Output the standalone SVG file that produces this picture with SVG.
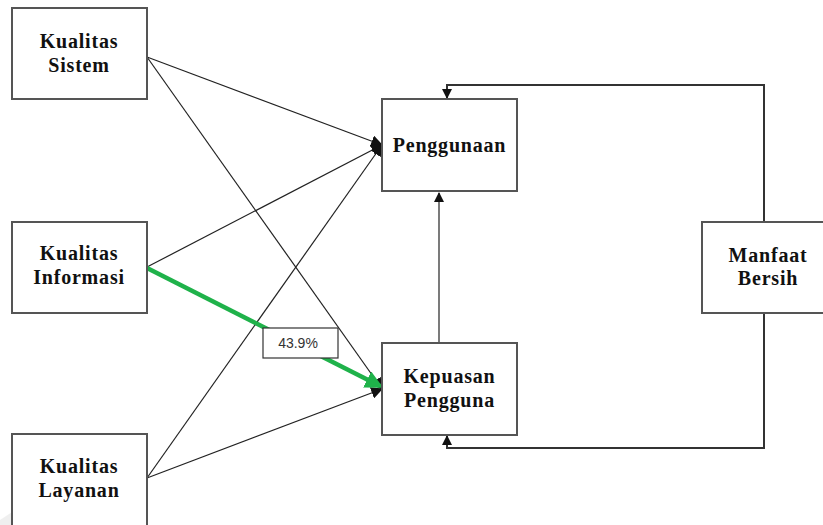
<svg xmlns="http://www.w3.org/2000/svg" width="823" height="525" viewBox="0 0 823 525">
  <style>
    .box { fill: #ffffff; stroke: #555555; stroke-width: 2; }
    .lbl { font-family: "Liberation Serif", "Times New Roman", serif; font-weight: bold; font-size: 20px; letter-spacing: 0.8px; fill: #111111; text-anchor: middle; }
    .edge { fill: none; stroke: #222222; stroke-width: 1.2; }
    .loop { fill: none; stroke: #333333; stroke-width: 2; }
    .green { fill: none; stroke: #1fb24a; stroke-width: 4.5; }
    .pct { font-family: "Liberation Sans", Arial, sans-serif; font-size: 14px; fill: #333333; text-anchor: middle; }
  </style>
  <defs>
    <marker id="arrow" viewBox="0 0 10 10" refX="9" refY="5" markerWidth="10" markerHeight="10" markerUnits="userSpaceOnUse" orient="auto">
      <path d="M0,0 L10,5 L0,10 z" fill="#111111"/>
    </marker>
    <marker id="arrowBig" viewBox="0 0 10 10" refX="9" refY="5" markerWidth="12" markerHeight="12" markerUnits="userSpaceOnUse" orient="auto">
      <path d="M0,0 L10,5 L0,10 z" fill="#111111"/>
    </marker>
    <marker id="arrowGreen" viewBox="0 0 10 10" refX="8" refY="5" markerWidth="4" markerHeight="4" orient="auto">
      <path d="M0,0 L10,5 L0,10 z" fill="#1fb24a"/>
    </marker>
  </defs>

  <rect width="823" height="525" fill="#ffffff"/>

  <!-- faint background mark -->
  <g opacity="0.15">
    <polygon points="73,472 0,520 0,525 40,525" fill="#9a9a9a"/>
    <polygon points="73,472 110,525 60,525" fill="#d23a3a"/>
  </g>

  <!-- connectors -->
  <g id="connectors">
    <line class="edge" x1="147" y1="57" x2="382" y2="145" marker-end="url(#arrowBig)"/>
    <line class="edge" x1="147" y1="57" x2="382" y2="389" marker-end="url(#arrowBig)"/>
    <line class="edge" x1="147" y1="267" x2="382" y2="145" marker-end="url(#arrowBig)"/>
    <line class="edge" x1="147" y1="478" x2="382" y2="145" marker-end="url(#arrowBig)"/>
    <line class="edge" x1="147" y1="478" x2="382" y2="389" marker-end="url(#arrowBig)"/>
    <line class="green" x1="147" y1="268" x2="380" y2="386" marker-end="url(#arrowGreen)"/>
    <line class="edge" x1="439" y1="343" x2="439" y2="193" marker-end="url(#arrow)"/>
    <path class="loop" d="M764,222 V85 H447 V98" marker-end="url(#arrow)"/>
    <path class="loop" d="M764,313 V448 H447 V436" marker-end="url(#arrow)"/>
    <g id="label-43">
      <rect x="263" y="328" width="75" height="30" fill="#ffffff" stroke="#333333" stroke-width="1.2"/>
      <text class="pct" x="298" y="348">43.9%</text>
    </g>
  </g>

  <g id="kualitas-sistem">
    <rect class="box" x="12" y="8" width="135" height="91"/>
    <text class="lbl" x="79" y="48">Kualitas</text>
    <text class="lbl" x="79" y="72">Sistem</text>
  </g>

  <g id="kualitas-informasi">
    <rect class="box" x="12" y="222" width="135" height="91"/>
    <text class="lbl" x="79" y="260">Kualitas</text>
    <text class="lbl" x="79" y="284">Informasi</text>
  </g>

  <g id="kualitas-layanan">
    <rect class="box" x="12" y="434" width="135" height="100"/>
    <text class="lbl" x="79" y="473">Kualitas</text>
    <text class="lbl" x="79" y="497">Layanan</text>
  </g>

  <g id="penggunaan">
    <rect class="box" x="382" y="99" width="135" height="92"/>
    <text class="lbl" x="449.5" y="152">Penggunaan</text>
  </g>

  <g id="kepuasan-pengguna">
    <rect class="box" x="382" y="343" width="135" height="92"/>
    <text class="lbl" x="449.5" y="383">Kepuasan</text>
    <text class="lbl" x="449.5" y="407">Pengguna</text>
  </g>

  <g id="manfaat-bersih">
    <rect class="box" x="702" y="222" width="135" height="91"/>
    <text class="lbl" x="768" y="262">Manfaat</text>
    <text class="lbl" x="768" y="285">Bersih</text>
  </g>
</svg>
